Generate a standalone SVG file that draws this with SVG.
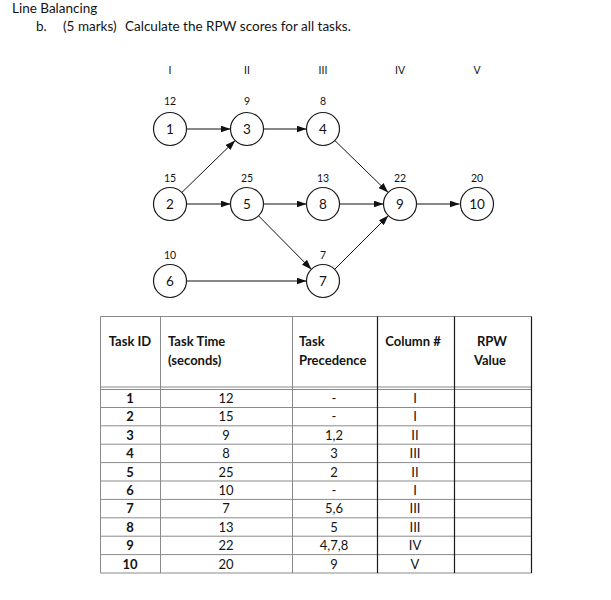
<svg xmlns="http://www.w3.org/2000/svg" width="611" height="600" viewBox="0 0 611 600">
<defs>
<marker id="ah" markerUnits="userSpaceOnUse" markerWidth="10" markerHeight="7" refX="10" refY="3.5" orient="auto">
<path d="M0,0 L10,3.5 L0,7 z" fill="#111"/>
</marker>
<style>
text{font-family:Lato,"Liberation Sans",sans-serif;fill:#141414}
.t{font-size:13.5px}
.lab{font-size:10.5px;text-anchor:middle}
.nd{font-size:13.5px;text-anchor:middle}
circle{fill:#fff;stroke:#1a1a1a;stroke-width:1.2}
.c line{stroke:#111;stroke-width:1;marker-end:url(#ah)}
.g{stroke:#8a8a8a;stroke-width:1}
.k{stroke:#1a1a1a;stroke-width:1.2}
.h{font-size:13px;font-weight:bold}
.m{text-anchor:middle}
.d{font-size:13px;text-anchor:middle}
.b{font-weight:bold}
</style>
</defs>
<rect width="611" height="600" fill="#fff"/>
<g id="title">
<text class="t" x="12" y="12.5">Line Balancing</text>
<text class="t" x="36" y="31">b.</text>
<text class="t" x="63" y="31">(5 marks)</text>
<text class="t" x="125" y="31">Calculate the RPW scores for all tasks.</text>
</g>
<g id="column-labels">
<text class="lab" x="170" y="73.5">I</text>
<text class="lab" x="247" y="73.5">II</text>
<text class="lab" x="323" y="73.5">III</text>
<text class="lab" x="400" y="73.5">IV</text>
<text class="lab" x="477" y="73.5">V</text>
</g>
<g id="connectors" class="c">
<line x1="186.5" y1="129" x2="230.5" y2="129"/>
<line x1="263.5" y1="129" x2="306.5" y2="129"/>
<line x1="181.8" y1="192.5" x2="235.2" y2="140.5"/>
<line x1="186.5" y1="204" x2="230.5" y2="204"/>
<line x1="263.5" y1="204" x2="306.5" y2="204"/>
<line x1="339.5" y1="204" x2="383.5" y2="204"/>
<line x1="416.5" y1="204" x2="459.5" y2="204"/>
<line x1="334.8" y1="140.5" x2="388.2" y2="192.5"/>
<line x1="258.5" y1="215.8" x2="311.5" y2="269.4"/>
<line x1="334.6" y1="269.4" x2="388.4" y2="215.6"/>
<line x1="186.5" y1="281" x2="306.5" y2="281"/>
</g>
<g id="node1"><text class="lab" x="170" y="105">12</text><circle cx="170" cy="129" r="16.5"/><text class="nd" x="170" y="133.8">1</text></g>
<g id="node3"><text class="lab" x="247" y="105">9</text><circle cx="247" cy="129" r="16.5"/><text class="nd" x="247" y="133.8">3</text></g>
<g id="node4"><text class="lab" x="323" y="105">8</text><circle cx="323" cy="129" r="16.5"/><text class="nd" x="323" y="133.8">4</text></g>
<g id="node2"><text class="lab" x="170" y="181.5">15</text><circle cx="170" cy="204" r="16.5"/><text class="nd" x="170" y="208.8">2</text></g>
<g id="node5"><text class="lab" x="247" y="181.5">25</text><circle cx="247" cy="204" r="16.5"/><text class="nd" x="247" y="208.8">5</text></g>
<g id="node8"><text class="lab" x="323" y="181.5">13</text><circle cx="323" cy="204" r="16.5"/><text class="nd" x="323" y="208.8">8</text></g>
<g id="node9"><text class="lab" x="400" y="181.5">22</text><circle cx="400" cy="204" r="16.5"/><text class="nd" x="400" y="208.8">9</text></g>
<g id="node10"><text class="lab" x="477" y="181.5">20</text><circle cx="477" cy="204" r="16.5"/><text class="nd" x="477" y="208.8">10</text></g>
<g id="node6"><text class="lab" x="170" y="258.5">10</text><circle cx="170" cy="281" r="16.5"/><text class="nd" x="170" y="285.8">6</text></g>
<g id="node7"><text class="lab" x="323" y="258.5">7</text><circle cx="323" cy="281" r="16.5"/><text class="nd" x="323" y="285.8">7</text></g>
<g id="table">
<g class="g">
<line x1="100.5" y1="316.5" x2="531.5" y2="316.5"/>
<line x1="100.5" y1="387" x2="531.5" y2="387"/>
<line x1="100.5" y1="389.5" x2="531.5" y2="389.5"/>
<line x1="100.5" y1="407.5" x2="531.5" y2="407.5"/>
<line x1="100.5" y1="425.8" x2="531.5" y2="425.8"/>
<line x1="100.5" y1="444.2" x2="531.5" y2="444.2"/>
<line x1="100.5" y1="462.6" x2="531.5" y2="462.6"/>
<line x1="100.5" y1="481" x2="531.5" y2="481"/>
<line x1="100.5" y1="499.4" x2="531.5" y2="499.4"/>
<line x1="100.5" y1="517.8" x2="531.5" y2="517.8"/>
<line x1="100.5" y1="536.2" x2="531.5" y2="536.2"/>
<line x1="100.5" y1="554.6" x2="531.5" y2="554.6"/>
<line x1="100.5" y1="573" x2="531.5" y2="573"/>
<line x1="100.5" y1="316.5" x2="100.5" y2="573"/>
<line x1="160.5" y1="316.5" x2="160.5" y2="573"/>
<line x1="292.5" y1="316.5" x2="292.5" y2="573"/>
</g>
<g class="k">
<line x1="377.5" y1="316.5" x2="377.5" y2="573"/>
<line x1="454.5" y1="316.5" x2="454.5" y2="573"/>
<line x1="531.5" y1="316.5" x2="531.5" y2="573"/>
</g>
<text class="h m" x="130" y="346.4">Task ID</text>
<text class="h" x="168" y="346.4">Task Time</text>
<text class="h" x="168" y="365">(seconds)</text>
<text class="h" x="299" y="346.4">Task</text>
<text class="h" x="299" y="365">Precedence</text>
<text class="h m" x="413" y="346.4">Column #</text>
<text class="h m" x="492" y="346.4">RPW</text>
<text class="h m" x="490" y="365">Value</text>
<g class="b">
<text class="d" x="130" y="403">1</text>
<text class="d" x="130" y="421.4">2</text>
<text class="d" x="130" y="439.8">3</text>
<text class="d" x="130" y="458.2">4</text>
<text class="d" x="130" y="476.6">5</text>
<text class="d" x="130" y="495">6</text>
<text class="d" x="130" y="513.4">7</text>
<text class="d" x="130" y="531.8">8</text>
<text class="d" x="130" y="550.2">9</text>
<text class="d" x="130" y="568.6">10</text>
</g>
<text class="d" x="226" y="403">12</text>
<text class="d" x="226" y="421.4">15</text>
<text class="d" x="226" y="439.8">9</text>
<text class="d" x="226" y="458.2">8</text>
<text class="d" x="226" y="476.6">25</text>
<text class="d" x="226" y="495">10</text>
<text class="d" x="226" y="513.4">7</text>
<text class="d" x="226" y="531.8">13</text>
<text class="d" x="226" y="550.2">22</text>
<text class="d" x="226" y="568.6">20</text>
<text class="d" x="334" y="403">-</text>
<text class="d" x="334" y="421.4">-</text>
<text class="d" x="334" y="439.8">1,2</text>
<text class="d" x="334" y="458.2">3</text>
<text class="d" x="334" y="476.6">2</text>
<text class="d" x="334" y="495">-</text>
<text class="d" x="334" y="513.4">5,6</text>
<text class="d" x="334" y="531.8">5</text>
<text class="d" x="334" y="550.2">4,7,8</text>
<text class="d" x="334" y="568.6">9</text>
<text class="d" x="415" y="403">I</text>
<text class="d" x="415" y="421.4">I</text>
<text class="d" x="415" y="439.8">II</text>
<text class="d" x="415" y="458.2">III</text>
<text class="d" x="415" y="476.6">II</text>
<text class="d" x="415" y="495">I</text>
<text class="d" x="415" y="513.4">III</text>
<text class="d" x="415" y="531.8">III</text>
<text class="d" x="415" y="550.2">IV</text>
<text class="d" x="415" y="568.6">V</text>
</g>
</svg>
